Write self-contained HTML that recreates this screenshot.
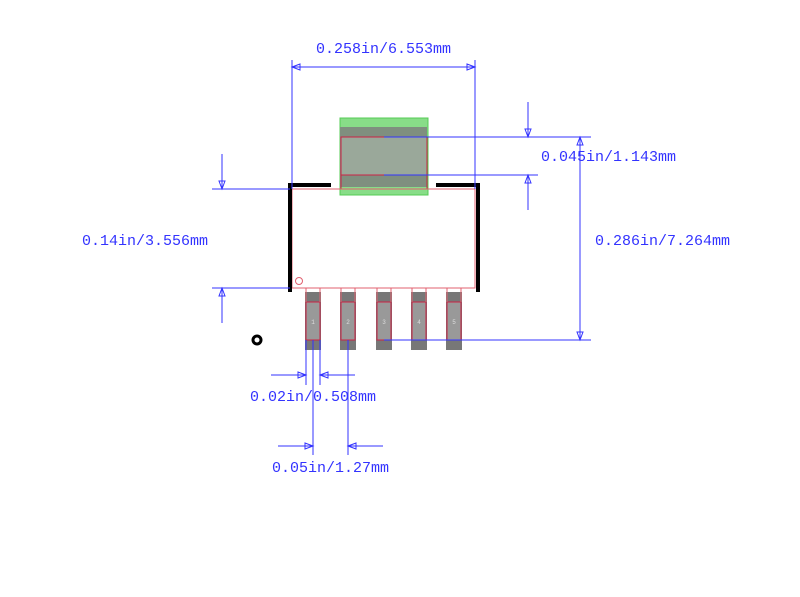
<!DOCTYPE html>
<html><head><meta charset="utf-8"><style>
html,body{margin:0;padding:0;background:#fff;}
svg{display:block;}
text{font-family:"Liberation Mono","Noto Serif CJK SC",monospace;font-size:15px;fill:#3333ff;}
</style></head><body>
<svg width="800" height="597" viewBox="0 0 800 597" xmlns="http://www.w3.org/2000/svg">
<!-- tab -->
<rect x="340" y="118" width="88" height="77" fill="#88dd88" stroke="#55cc55" stroke-width="1"/>
<rect x="340" y="127" width="87" height="60" fill="#7f8f7f"/>
<rect x="341" y="137" width="86" height="38" fill="#9aa89a" stroke="#cc2244" stroke-width="1"/>
<line x1="341" y1="175" x2="341" y2="189" stroke="#cc2244"/>
<line x1="427" y1="175" x2="427" y2="189" stroke="#cc2244"/>
<!-- body -->
<rect x="292" y="189" width="183" height="99" fill="none" stroke="#e0606f" stroke-width="1"/>
<circle cx="299" cy="281" r="3.5" fill="none" stroke="#e0606f"/>
<!-- silkscreen -->
<path d="M331 185 H290 V292" fill="none" stroke="#000" stroke-width="4"/>
<path d="M436 185 H478 V292" fill="none" stroke="#000" stroke-width="4"/>
<!-- pads -->
<g>
<rect x="305" y="292" width="16" height="58" fill="#777"/>
<rect x="340" y="292" width="16" height="58" fill="#777"/>
<rect x="376" y="292" width="16" height="58" fill="#777"/>
<rect x="411" y="292" width="16" height="58" fill="#777"/>
<rect x="446" y="292" width="16" height="58" fill="#777"/>
</g>
<g fill="#999" stroke="#cc2244">
<rect x="306" y="302" width="14" height="38"/>
<rect x="341" y="302" width="14" height="38"/>
<rect x="377" y="302" width="14" height="38"/>
<rect x="412" y="302" width="14" height="38"/>
<rect x="447" y="302" width="14" height="38"/>
</g>
<g fill="none" stroke="#e0606f">
<path d="M306 302V288M320 302V288M341 302V288M355 302V288M377 302V288M391 302V288M412 302V288M426 302V288M447 302V288M461 302V288"/>
</g>
<g style="font-size:6px;fill:#ddd" text-anchor="middle">
<text x="313" y="324" style="font-size:6px;fill:#ddd">1</text>
<text x="348" y="324" style="font-size:6px;fill:#ddd">2</text>
<text x="384" y="324" style="font-size:6px;fill:#ddd">3</text>
<text x="419" y="324" style="font-size:6px;fill:#ddd">4</text>
<text x="454" y="324" style="font-size:6px;fill:#ddd">5</text>
</g>
<circle cx="257" cy="340" r="4" fill="none" stroke="#000" stroke-width="3"/>
<!-- dimension lines -->
<g stroke="#3333ff" stroke-width="1" fill="none">
<path d="M292 60V189M475 60V189M292 67H475"/>
<path d="M384 137H591M384 175H538M528 102V137M528 175V210M580 137V340M384 340H591"/>
<path d="M212 189H290M212 288H290M222 154V189M222 288V323"/>
<path d="M306 340V385M320 340V385M313 340V455M348 340V455"/>
<path d="M271 375H306M320 375H355M278 446H313M348 446H383"/>
</g>
<g fill="none" stroke="#3333ff">
<path d="M292 67l8-3v6z"/><path d="M475 67l-8-3v6z"/>
<path d="M528 137l-3-8h6z"/><path d="M528 175l-3 8h6z"/>
<path d="M580 137l-3 8h6z"/><path d="M580 340l-3-8h6z"/>
<path d="M222 189l-3-8h6z"/><path d="M222 288l-3 8h6z"/>
<path d="M306 375l-8-3v6z"/><path d="M320 375l8-3v6z"/>
<path d="M313 446l-8-3v6z"/><path d="M348 446l8-3v6z"/>
</g>
<text x="316" y="53">0.258in/6.553mm</text>
<text x="541" y="161">0.045in/1.143mm</text>
<text x="595" y="245">0.286in/7.264mm</text>
<text x="82" y="245">0.14in/3.556mm</text>
<text x="250" y="401">0.02in/0.508mm</text>
<text x="272" y="472">0.05in/1.27mm</text>
</svg>
</body></html>
